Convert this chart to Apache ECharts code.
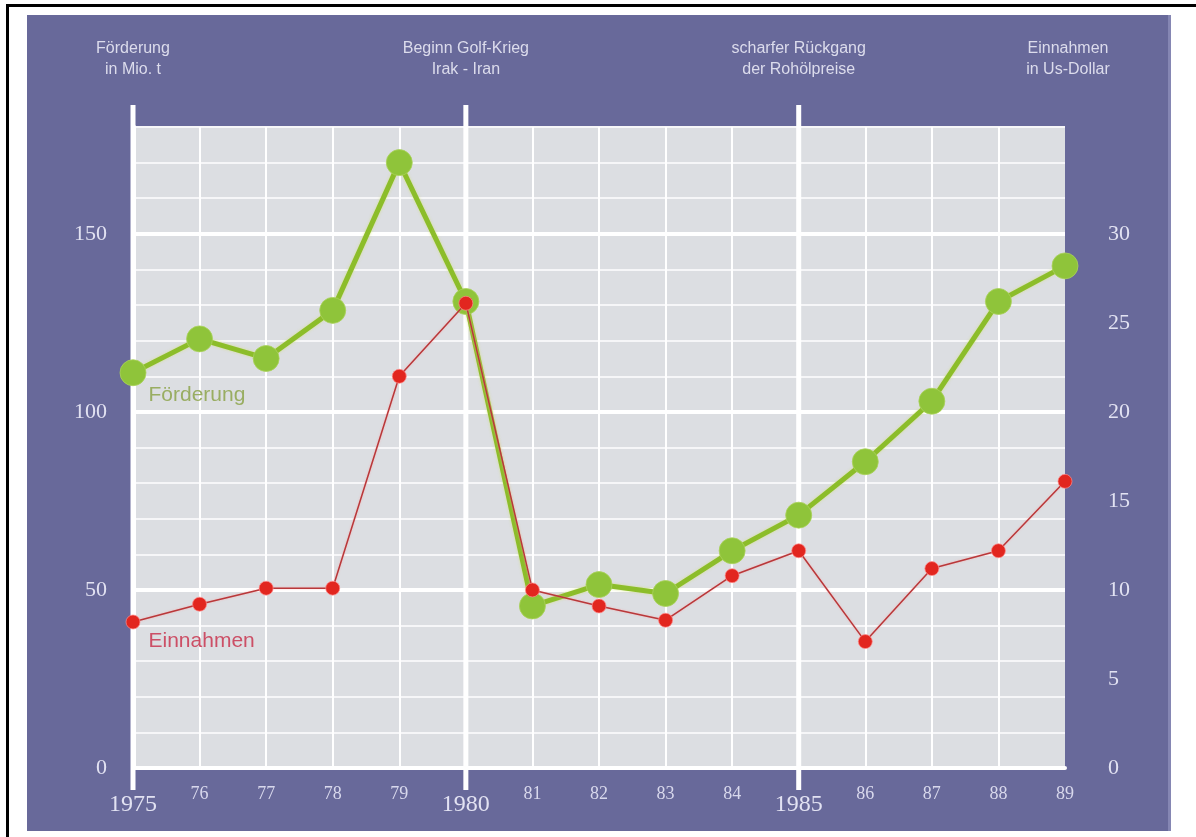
<!DOCTYPE html>
<html>
<head>
<meta charset="utf-8">
<script src="https://cdn.jsdelivr.net/npm/echarts@6/dist/echarts.min.js"></script>
<style>
html,body{margin:0;padding:0;background:#fff;}
#wrap{position:relative;width:1196px;height:837px;overflow:hidden;background:#fff;}
#bg{position:absolute;left:27px;top:15px;width:1141px;height:816px;background:#68699a;border-right:3px solid #8586b3;}
#topline{position:absolute;left:6px;top:4px;width:1190px;height:3px;background:#000;}
#leftline{position:absolute;left:6px;top:4px;width:3px;height:833px;background:#000;}
#chart{position:absolute;left:0;top:0;width:1196px;height:837px;}
</style>
</head>
<body>
<div id="wrap"><div id="bg"></div><div id="topline"></div><div id="leftline"></div><div id="chart"></div></div>
<script>
// ---- data ----
const years = ['1975','1976','1977','1978','1979','1980','1981','1982','1983','1984','1985','1986','1987','1988','1989'];
const foerderung = [111, 120.5, 115, 128.5, 170, 131, 45.5, 51.5, 49, 61, 71, 86, 103, 131, 141];   // Mio. t
const einnahmen  = [8.2, 9.2, 10.1, 10.1, 22, 26.1, 10, 9.1, 8.3, 10.8, 12.2, 7.1, 11.2, 12.2, 16.1]; // Mrd. US-Dollar
const leftAxisName  = 'Förderung\nin Mio. t';
const rightAxisName = 'Einnahmen\nin Us-Dollar';
const eventYears = ['1980', '1985'];
const eventTexts = ['Beginn Golf-Krieg\nIrak - Iran', 'scharfer Rückgang\nder Rohölpreise'];
const markYears = ['1975', '1980', '1985'];
const leftMax = 180, rightMax = 36;

const serif = '"Liberation Serif", "DejaVu Serif", serif';
const sans = '"Liberation Sans", Arial, sans-serif';
const labelColor = '#e2e2f2';

const chart = echarts.init(document.getElementById('chart'), null, {renderer: 'canvas'});

const option = {
  backgroundColor: 'transparent',
  animation: false,
  grid: {
    show: true, left: 133, right: 131, top: 127, bottom: 69,
    backgroundColor: '#dcdee2', borderWidth: 0, containLabel: false
  },
  xAxis: {
    type: 'category', data: years, boundaryGap: false,
    axisLine: {show: true, lineStyle: {color: '#ffffff', width: 4}},
    axisTick: {show: false},
    axisLabel: {
      interval: 0, margin: 17,
      formatter: v => (Number(v) % 5 === 0) ? '{big|' + v + '}' : '{small|' + v.slice(2) + '}',
      rich: {
        big: {fontFamily: serif, fontSize: 24, color: labelColor, padding: [8, 0, 0, 0]},
        small: {fontFamily: serif, fontSize: 18, color: '#d8d8ec'}
      }
    },
    splitLine: {show: true, interval: 0, showMaxLine: false, lineStyle: {color: '#ffffff', width: 2}}
  },
  yAxis: [
    {
      type: 'value', position: 'left', min: 0, max: leftMax, interval: 10,
      name: leftAxisName, nameLocation: 'end', nameGap: 47,
      nameTextStyle: {fontFamily: sans, fontSize: 16, color: '#dcdcec', align: 'center', verticalAlign: 'bottom', lineHeight: 21},
      axisLine: {show: true, lineStyle: {color: '#ffffff', width: 5}},
      axisTick: {show: false},
      axisLabel: {
        margin: 26, fontFamily: serif, fontSize: 22, color: labelColor,
        formatter: v => (v % 50 === 0 && v <= 150) ? String(v) : ''
      },
      splitLine: {show: true, lineStyle: {color: '#f6f6f8', width: 2}}
    },
    {
      type: 'value', position: 'right', min: 0, max: rightMax, interval: 5,
      name: rightAxisName, nameLocation: 'end', nameGap: 47,
      nameTextStyle: {fontFamily: sans, fontSize: 16, color: '#dcdcec', align: 'center', verticalAlign: 'bottom', lineHeight: 21, padding: [0, 0, 0, 6]},
      axisLine: {show: false},
      axisTick: {show: false},
      axisLabel: {
        margin: 43, fontFamily: serif, fontSize: 22, color: labelColor,
        formatter: v => (v % 5 === 0 && v <= 30) ? String(v) : ''
      },
      splitLine: {show: false}
    },
    {
      type: 'value', position: 'left', min: 0, max: leftMax, interval: 50,
      axisLine: {show: false}, axisTick: {show: false}, axisLabel: {show: false},
      splitLine: {show: true, showMinLine: false, showMaxLine: false, lineStyle: {color: '#ffffff', width: 4}}
    }
  ],
  series: [
    {
      name: 'Förderung', type: 'line', yAxisIndex: 0, z: 3,
      data: foerderung.map((v, i) => i === 0 ? {
        value: v,
        label: {show: true, position: 'right', distance: 2, offset: [0, 22], formatter: 'Förderung',
          fontFamily: sans, fontSize: 21, color: '#99ad62'}
      } : v),
      symbol: 'circle', symbolSize: 26,
      lineStyle: {color: '#8cbd2a', width: 5, shadowColor: 'rgba(210,225,110,0.7)', shadowBlur: 3},
      itemStyle: {color: '#8fc43a', borderColor: 'rgba(170,210,90,0.8)', borderWidth: 1}
    },
    {
      name: 'Einnahmen', type: 'line', yAxisIndex: 1, z: 4,
      data: einnahmen.map((v, i) => i === 0 ? {
        value: v,
        label: {show: true, position: 'right', distance: 8, offset: [0, 19], formatter: 'Einnahmen',
          fontFamily: sans, fontSize: 21, color: '#cc4f66'}
      } : v),
      symbol: 'circle', symbolSize: 14,
      lineStyle: {color: '#b8383a', width: 1.5, shadowColor: 'rgba(255,160,160,0.7)', shadowBlur: 2},
      itemStyle: {color: '#e2261f', borderColor: 'rgba(255,140,140,0.7)', borderWidth: 1}
    }
  ]
};

chart.setOption(option);

// decorative thick year lines and event annotations, positioned through the axis scales
const yTop = chart.convertToPixel({yAxisIndex: 0}, leftMax);
const yBottom = chart.convertToPixel({yAxisIndex: 0}, 0);
const graphics = [];
markYears.forEach(y => {
  const x = chart.convertToPixel({xAxisIndex: 0}, y);
  graphics.push({
    type: 'line', z: 1, silent: true,
    shape: {x1: x, y1: yTop - 22, x2: x, y2: yBottom + 22},
    style: {stroke: '#ffffff', lineWidth: 5}
  });
});
eventYears.forEach((y, i) => {
  const x = chart.convertToPixel({xAxisIndex: 0}, y);
  graphics.push({
    type: 'text', z: 5, silent: true,
    x: x, y: yTop - 47,
    style: {text: eventTexts[i], fill: '#dcdcec', font: '16px ' + sans, textAlign: 'center', textVerticalAlign: 'bottom', lineHeight: 21}
  });
});
chart.setOption({graphic: {elements: graphics}});
</script>
</body>
</html>
